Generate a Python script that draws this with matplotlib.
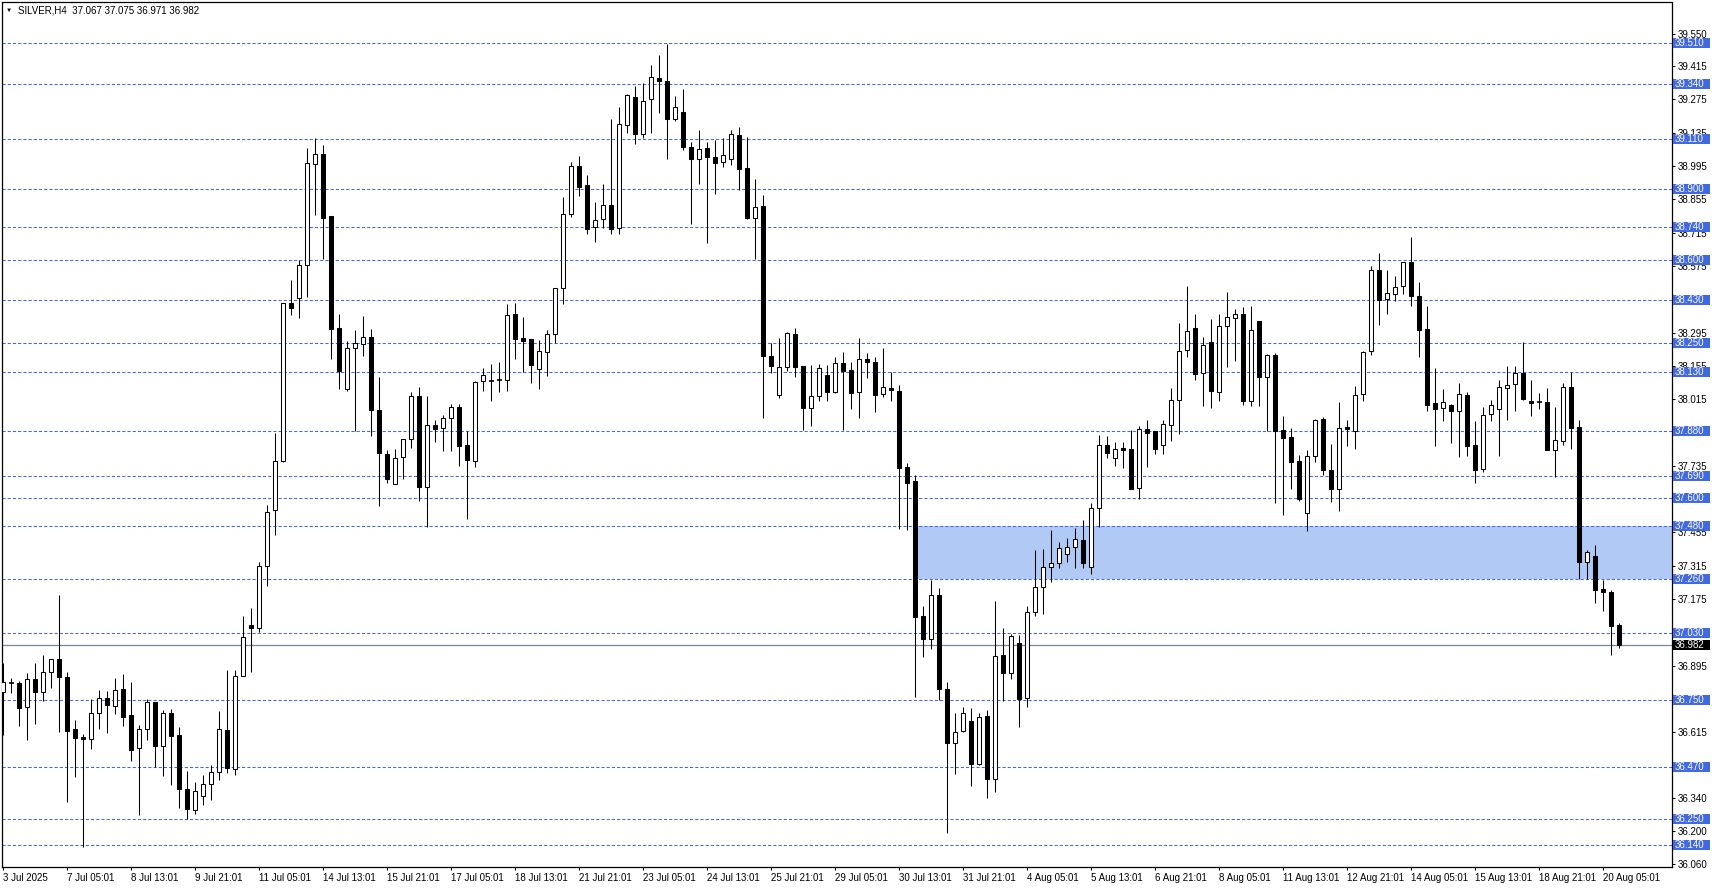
import matplotlib
matplotlib.use("Agg")
import matplotlib.pyplot as plt
import matplotlib.transforms as mtransforms
from matplotlib.patches import Rectangle

plt.rcParams["font.family"] = ["Liberation Sans", "DejaVu Sans"]

# SILVER H4 candles (oldest first)
opens = [
    36.783, 36.823, 36.821, 36.723, 36.839, 36.783, 36.867, 36.923, 36.846, 36.627,
    36.595, 36.588, 36.697, 36.758, 36.727, 36.797, 36.686, 36.550, 36.627, 36.741,
    36.559, 36.695, 36.603, 36.375, 36.290, 36.346, 36.396, 36.447, 36.623, 36.462,
    36.853, 37.064, 37.055, 37.314, 37.548, 37.757, 38.418, 38.442, 38.578, 39.002,
    39.044, 38.784, 38.313, 38.056, 38.229, 38.246, 38.275, 37.968, 37.783, 37.657,
    37.771, 37.846, 38.027, 37.647, 37.905, 37.892, 37.935, 37.981, 37.821, 37.754,
    38.090, 38.094, 38.093, 38.094, 38.372, 38.271, 38.267, 38.141, 38.215, 38.288,
    38.481, 38.792, 38.995, 38.915, 38.737, 38.771, 38.831, 38.733, 39.166, 39.284,
    39.128, 39.275, 39.364, 39.351, 39.191, 39.221, 39.074, 39.023, 39.069, 39.032,
    39.011, 39.023, 39.124, 38.985, 38.775, 38.827, 38.198, 38.031, 38.152, 38.288,
    38.155, 37.979, 38.027, 38.117, 38.047, 38.166, 38.138, 38.047, 38.182, 38.170,
    38.035, 38.061, 38.049, 37.730, 37.670, 37.104, 37.006, 37.191, 36.795, 36.568,
    36.622, 36.662, 36.480, 36.683, 36.417, 36.940, 36.865, 36.990, 36.758, 37.119,
    37.224, 37.311, 37.325, 37.363, 37.392, 37.423, 37.310, 37.556, 37.821, 37.766,
    37.808, 37.804, 37.640, 37.888, 37.881, 37.821, 37.905, 38.010, 38.220, 38.313,
    38.124, 38.254, 38.047, 38.321, 38.355, 38.373, 38.005, 38.344, 38.110, 38.199,
    37.884, 37.856, 37.755, 37.535, 37.775, 37.932, 37.717, 37.639, 37.897, 37.883,
    38.035, 38.219, 38.558, 38.435, 38.456, 38.492, 38.590, 38.449, 38.310, 37.998,
    37.979, 37.989, 37.967, 38.033, 37.821, 37.720, 37.951, 37.972, 38.061, 38.078,
    38.124, 38.005, 38.002, 38.002, 37.801, 37.841, 38.065, 37.897, 37.332, 37.356,
    37.217, 37.203, 37.067,
]
highs = [
    36.905, 36.842, 36.830, 36.863, 36.905, 36.938, 36.924, 37.192, 36.867, 36.665,
    36.608, 36.753, 36.793, 36.788, 36.842, 36.858, 36.825, 36.646, 36.755, 36.744,
    36.709, 36.713, 36.636, 36.452, 36.406, 36.435, 36.477, 36.704, 36.877, 36.877,
    37.104, 37.136, 37.330, 37.570, 37.872, 38.418, 38.516, 38.599, 39.069, 39.111,
    39.083, 38.784, 38.373, 38.260, 38.306, 38.365, 38.309, 38.107, 37.801, 37.804,
    37.846, 38.045, 38.066, 38.027, 37.928, 37.949, 37.993, 37.993, 37.879, 38.091,
    38.146, 38.162, 38.170, 38.414, 38.418, 38.359, 38.267, 38.264, 38.306, 38.481,
    38.866, 39.013, 39.037, 38.957, 38.842, 38.920, 39.193, 39.242, 39.298, 39.331,
    39.343, 39.420, 39.462, 39.508, 39.289, 39.319, 39.095, 39.147, 39.095, 39.104,
    39.111, 39.147, 39.158, 39.116, 38.939, 38.873, 38.250, 38.271, 38.296, 38.313,
    38.155, 38.159, 38.163, 38.159, 38.190, 38.212, 38.170, 38.271, 38.210, 38.194,
    38.229, 38.131, 38.075, 37.745, 37.696, 37.146, 37.255, 37.220, 36.825, 36.695,
    36.720, 36.718, 36.695, 36.709, 37.167, 37.052, 37.028, 37.024, 37.146, 37.381,
    37.384, 37.465, 37.413, 37.430, 37.472, 37.507, 37.577, 37.865, 37.860, 37.835,
    37.835, 37.886, 37.902, 37.928, 37.881, 37.928, 38.061, 38.334, 38.491, 38.373,
    38.275, 38.352, 38.373, 38.467, 38.394, 38.404, 38.407, 38.344, 38.204, 38.208,
    37.944, 37.892, 37.780, 37.801, 37.932, 37.940, 37.827, 38.002, 37.928, 38.070,
    38.218, 38.575, 38.631, 38.558, 38.533, 38.592, 38.697, 38.508, 38.407, 38.145,
    38.058, 37.995, 38.082, 38.047, 37.923, 37.981, 38.010, 38.096, 38.155, 38.155,
    38.254, 38.096, 38.040, 38.061, 37.981, 38.082, 38.128, 37.928, 37.381, 37.402,
    37.255, 37.213, 37.075,
]
lows = [
    36.603, 36.779, 36.643, 36.582, 36.648, 36.748, 36.802, 36.617, 36.323, 36.428,
    36.134, 36.545, 36.629, 36.613, 36.692, 36.643, 36.494, 36.267, 36.582, 36.468,
    36.431, 36.393, 36.295, 36.250, 36.271, 36.309, 36.330, 36.414, 36.445, 36.435,
    36.853, 36.867, 37.038, 37.231, 37.444, 37.750, 38.369, 38.358, 38.446, 38.789,
    38.604, 38.185, 38.059, 38.051, 37.879, 38.198, 37.858, 37.567, 37.664, 37.657,
    37.678, 37.808, 37.588, 37.476, 37.836, 37.799, 37.799, 37.736, 37.513, 37.729,
    38.051, 38.005, 38.047, 38.051, 38.184, 38.131, 38.084, 38.056, 38.114, 38.250,
    38.414, 38.782, 38.870, 38.708, 38.677, 38.736, 38.708, 38.708, 39.135, 39.086,
    39.114, 39.135, 39.217, 39.023, 39.186, 39.060, 38.751, 38.920, 38.673, 38.877,
    38.992, 38.999, 38.892, 38.772, 38.606, 37.935, 38.124, 38.019, 38.135, 38.110,
    37.887, 37.902, 38.005, 38.005, 38.040, 37.885, 37.974, 37.937, 38.105, 37.962,
    38.026, 38.005, 37.469, 37.465, 36.765, 36.933, 36.964, 36.751, 36.190, 36.438,
    36.617, 36.390, 36.477, 36.337, 36.365, 36.748, 36.839, 36.636, 36.722, 37.105,
    37.112, 37.248, 37.304, 37.332, 37.304, 37.304, 37.280, 37.479, 37.769, 37.736,
    37.727, 37.636, 37.594, 37.731, 37.785, 37.785, 37.839, 37.867, 38.194, 38.094,
    37.984, 37.977, 38.009, 38.148, 38.177, 37.992, 37.988, 37.984, 37.881, 37.577,
    37.528, 37.636, 37.588, 37.462, 37.752, 37.694, 37.584, 37.546, 37.820, 37.806,
    38.005, 38.201, 38.327, 38.373, 38.428, 38.457, 38.407, 38.194, 37.967, 37.816,
    37.923, 37.832, 37.773, 37.778, 37.664, 37.710, 37.923, 37.778, 37.928, 37.965,
    38.012, 37.942, 37.974, 37.801, 37.689, 37.823, 37.806, 37.258, 37.258, 37.160,
    37.126, 36.940, 36.971,
]
closes = [
    36.828, 36.821, 36.718, 36.837, 36.783, 36.867, 36.922, 36.849, 36.622, 36.592,
    36.588, 36.695, 36.758, 36.731, 36.791, 36.681, 36.542, 36.627, 36.741, 36.559,
    36.695, 36.601, 36.378, 36.294, 36.368, 36.396, 36.447, 36.627, 36.466, 36.853,
    37.014, 37.055, 37.314, 37.542, 37.754, 38.418, 38.400, 38.578, 39.006, 39.044,
    38.778, 38.311, 38.135, 38.229, 38.250, 38.275, 37.971, 37.787, 37.681, 37.766,
    37.846, 38.027, 37.647, 37.905, 37.891, 37.935, 37.981, 37.820, 37.758, 38.086,
    38.115, 38.091, 38.096, 38.368, 38.267, 38.261, 38.160, 38.218, 38.288, 38.481,
    38.792, 38.995, 38.908, 38.732, 38.767, 38.831, 38.732, 39.170, 39.292, 39.128,
    39.268, 39.368, 39.351, 39.191, 39.242, 39.076, 39.023, 39.065, 39.034, 39.009,
    39.039, 39.128, 38.984, 38.778, 38.824, 38.198, 38.154, 38.152, 38.292, 38.152,
    37.979, 38.027, 38.145, 38.047, 38.166, 38.135, 38.042, 38.182, 38.173, 38.033,
    38.065, 38.055, 37.727, 37.664, 37.101, 37.006, 37.191, 36.795, 36.571, 36.617,
    36.695, 36.483, 36.678, 36.419, 36.935, 36.865, 37.020, 36.755, 37.119, 37.224,
    37.311, 37.325, 37.391, 37.392, 37.426, 37.325, 37.556, 37.821, 37.790, 37.807,
    37.803, 37.636, 37.888, 37.874, 37.807, 37.909, 38.010, 38.218, 38.302, 38.120,
    38.241, 38.051, 38.321, 38.359, 38.372, 38.005, 38.306, 38.110, 38.199, 37.879,
    37.853, 37.752, 37.597, 37.775, 37.928, 37.715, 37.639, 37.893, 37.890, 38.031,
    38.212, 38.558, 38.432, 38.460, 38.485, 38.590, 38.449, 38.306, 37.991, 37.974,
    38.002, 37.967, 38.035, 37.820, 37.715, 37.947, 37.989, 38.065, 38.073, 38.124,
    38.016, 38.000, 38.003, 37.801, 37.844, 38.065, 37.895, 37.332, 37.374, 37.213,
    37.206, 37.063, 36.982,
]

date_labels = [
    "3 Jul 2025", "7 Jul 05:01", "8 Jul 13:01", "9 Jul 21:01", "11 Jul 05:01",
    "14 Jul 13:01", "15 Jul 21:01", "17 Jul 05:01", "18 Jul 13:01", "21 Jul 21:01",
    "23 Jul 05:01", "24 Jul 13:01", "25 Jul 21:01", "29 Jul 05:01", "30 Jul 13:01",
    "31 Jul 21:01", "4 Aug 05:01", "5 Aug 13:01", "6 Aug 21:01", "8 Aug 05:01",
    "11 Aug 13:01", "12 Aug 21:01", "14 Aug 05:01", "15 Aug 13:01", "18 Aug 21:01",
    "20 Aug 05:01",
]
bars_per_label = 8

level_prices = [
    39.510, 39.340, 39.110, 38.900, 38.740, 38.600, 38.430, 38.250, 38.130, 37.880,
    37.690, 37.600, 37.480, 37.260, 37.030, 36.750, 36.470, 36.250, 36.140,
]
price_ticks = [
    39.550, 39.415, 39.275, 39.135, 38.995, 38.855, 38.715, 38.575, 38.435, 38.295,
    38.155, 38.015, 37.875, 37.735, 37.595, 37.455, 37.315, 37.175, 37.035, 36.895,
    36.755, 36.615, 36.475, 36.340, 36.200, 36.060,
]
last_price = closes[-1]
zone_low, zone_high = 37.26, 37.48
zone_start = 114.3

W, H = 1712, 888
fig = plt.figure(figsize=(W / 100, H / 100), dpi=100, facecolor="white")
ax = fig.add_axes([2 / W, 21 / H, 1670 / W, 864.5 / H])
ax.set_xlim(-0.16, 208.6)
ax.set_ylim(36.0485, 39.682)

level_blue = "#4169e1"

# support / resistance zone
ax.add_patch(Rectangle((zone_start, zone_low), 300, zone_high - zone_low,
                       facecolor="#b1c9f5", edgecolor="none", zorder=1))

for p in level_prices:
    ax.axhline(p, color=level_blue, lw=0.75, ls=(0, (3, 2)), zorder=2)
ax.axhline(last_price, color="#778899", lw=0.9, zorder=2)

# candles
for i, (o, h, l, c) in enumerate(zip(opens, highs, lows, closes)):
    ax.vlines(i, l, h, color="black", lw=0.75, zorder=3)
    face = "white" if c >= o else "black"
    if abs(c - o) < 0.004:
        ax.hlines((o + c) / 2, i - 0.3, i + 0.3, color="black", lw=1.2, zorder=4)
    else:
        ax.add_patch(Rectangle((i - 0.25, min(o, c)), 0.5, abs(c - o),
                               facecolor=face, edgecolor="black", lw=0.75, zorder=4))

for sp in ax.spines.values():
    sp.set_edgecolor("black")
    sp.set_linewidth(0.9)

ax.yaxis.tick_right()
ax.set_yticks(price_ticks)
ax.set_yticklabels([f"{v:.3f}" for v in price_ticks])
ax.tick_params(axis="y", direction="out", length=2.5, width=0.75, pad=1.5,
               labelsize=7, colors="black")

xt = [k * bars_per_label for k in range(len(date_labels))]
ax.set_xticks(xt)
ax.set_xticklabels(date_labels)
ax.tick_params(axis="x", direction="out", length=2.5, width=0.75, pad=1.5,
               labelsize=7, colors="black")
for lab in ax.get_xticklabels():
    lab.set_horizontalalignment("left")

# price labels on the right scale
tr = mtransforms.blended_transform_factory(ax.transAxes, ax.transData)
box_h = 10 / 237.9
for p, col in [(v, level_blue) for v in level_prices] + [(last_price, "black")]:
    ax.add_patch(Rectangle((1.0 + 0.6 / 1670, p - box_h / 2), 37 / 1670, box_h,
                           transform=tr, facecolor=col, edgecolor="none",
                           clip_on=False, zorder=5))
    ax.text(1.0 + 3 / 1670, p, f"{p:.3f}", transform=tr, color="white",
            fontsize=7, va="center", ha="left", clip_on=False, zorder=6)

fig.text(6 / W, 1 - 10.5 / H, "▼", fontsize=4.5, va="center", ha="left")
fig.text(18 / W, 1 - 10.5 / H,
         f"SILVER,H4  {opens[-1]:.3f} {highs[-1]:.3f} {lows[-1]:.3f} {closes[-1]:.3f}",
         fontsize=7, va="center", ha="left")

fig.savefig("out.png", dpi=100, facecolor="white")
